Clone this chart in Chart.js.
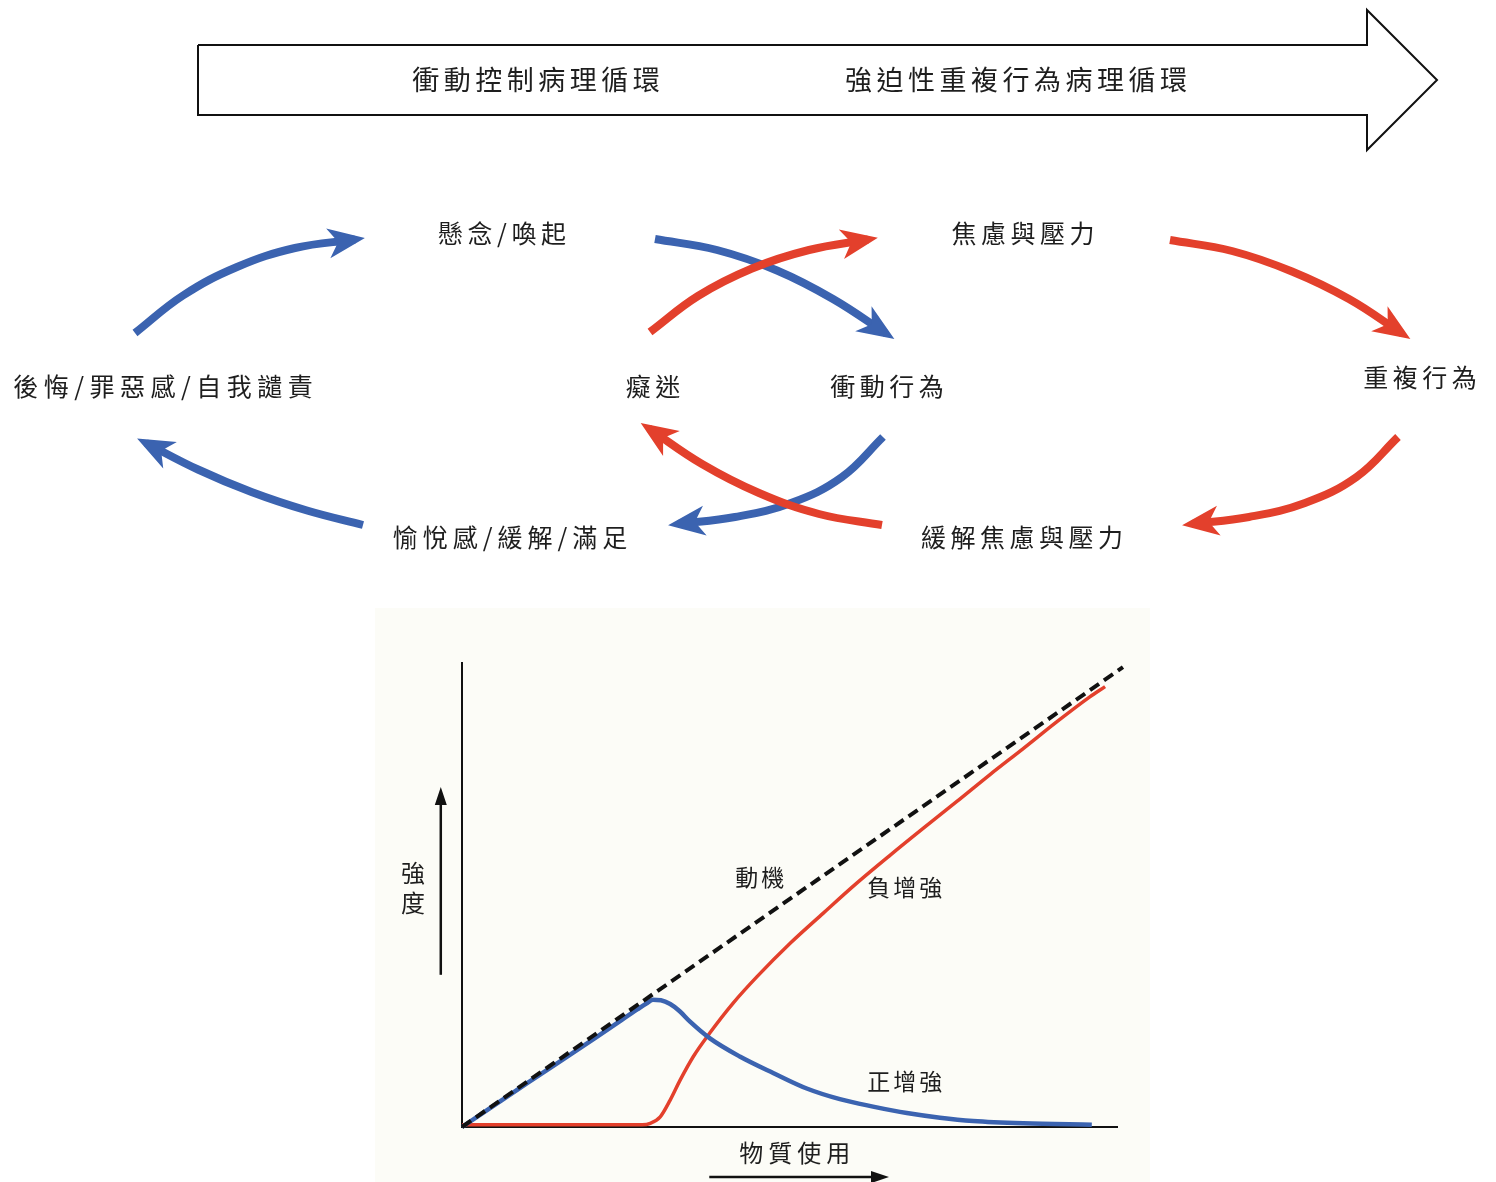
<!DOCTYPE html>
<html>
<head>
<meta charset="utf-8">
<title>衝動控制與強迫性重複行為病理循環</title>
<script src="https://cdn.jsdelivr.net/npm/chart.js@4.4.1/dist/chart.umd.min.js"></script>
<style>
  html, body { margin: 0; padding: 0; background: #ffffff; }
  body { width: 1496px; height: 1182px; position: relative; overflow: hidden; }
  #diagram { position: absolute; left: 0; top: 0; }
  #graph { position: absolute; left: 375px; top: 608px; background: #fcfcf7; }
</style>
</head>
<body>
<canvas id="diagram" width="1496" height="600"></canvas>
<canvas id="graph" width="775" height="574"></canvas>
<script>
// ---- diagram data (page units) ----
const bannerX = [198, 1367, 1367, 1437, 1367, 1367, 198, 198];
const bannerY = [45, 45, 10, 80, 150, 115, 115, 45];
const bannerTitles = ['衝動控制病理循環', '強迫性重複行為病理循環'];

const stageLabels = ['懸念/喚起', '焦慮與壓力', '後悔/罪惡感/自我譴責', '癡迷',
  '衝動行為', '重複行為', '愉悅感/緩解/滿足', '緩解焦慮與壓力'];

// cycle arrows, traced from start to end of shaft (the head is added on top)
const blueArrowsX = [
  [135, 183, 237, 295, 355],
  [655, 717, 777, 833, 886],
  [883, 842, 791, 735, 678],
  [363, 307, 251.5, 198, 146]
];
const blueArrowsY = [
  [333, 295.5, 267, 248, 239.5],
  [239, 250, 270.5, 299, 333.5],
  [437, 477, 503, 517, 524],
  [525, 510.5, 492, 469.5, 443]
];
const redArrowsX = [
  [650, 698, 752, 809, 868],
  [1170, 1232, 1292, 1349, 1402],
  [1398, 1356.5, 1305, 1249, 1192],
  [882, 819, 759, 702, 649]
];
const redArrowsY = [
  [332, 296, 268.5, 250, 239.5],
  [240, 251, 271.5, 299, 333.5],
  [437, 477, 503, 517, 524],
  [525, 514, 493, 464, 428.5]
];

// ---- graph data ----
const motiveX = [0, 99.7];
const motiveY = [0, 99.1];
const positiveX = [0, 10, 20, 24.0, 26.5, 27.8, 28.8, 30.0, 31.4, 32.8, 34.4, 37.4, 41.9, 47.0, 52.0, 57.0, 62.0, 67.1, 72.1, 77.1, 84.7, 95.0];
const positiveY = [0, 9.6, 19.1, 23.0, 25.4, 26.6, 27.4, 27.3, 26.5, 25.0, 22.7, 19.1, 15.2, 11.6, 8.3, 6.0, 4.4, 3.0, 2.0, 1.3, 0.8, 0.5];
const negativeX = [0, 27.2, 28.4, 29.9, 31.4, 32.9, 34.9, 37.4, 40.9, 44.5, 49.5, 54.5, 59.5, 64.6, 69.6, 74.6, 79.6, 84.7, 89.7, 94.7, 97.0];
const negativeY = [0.5, 0.5, 0.8, 2.2, 5.8, 10.1, 15.2, 20.3, 26.7, 32.4, 39.6, 46.1, 52.5, 58.6, 64.4, 70.1, 75.9, 81.6, 87.3, 92.7, 94.9];
const graphLabels = ['動機', '負增強', '正增強'];
const axisTitles = ['強度', '物質使用'];

// ---- layout ----
const FONT = '"Noto Sans CJK TC", "Noto Sans CJK SC", sans-serif';
const TEXT = '#1e1e1e';
const BLUE = '#3b63b0';
const RED = '#e3402c';
const bannerTitlePos = [[536, 80], [1016, 80]];
const stagePos = [[502, 233], [1023, 233], [163, 386], [653, 386], [887, 386], [1420, 377], [510, 537], [1022, 537]];
const stageSpacing = [4.5, 4.5, 5.5, 4.5, 4.5, 4.5, 5, 4.5];
const graphLabelPos = [[44.9, 53.9], [66.8, 51.7], [66.8, 9.9]];

function pts(xs, ys) {
  return xs.map((x, i) => ({ x: x, y: ys[i] }));
}

function drawHead(ctx, x, y, dx, dy, color) {
  const len = Math.hypot(dx, dy) || 1;
  const ux = dx / len, uy = dy / len;
  const px = -uy, py = ux;
  const tx = x + ux * 10, ty = y + uy * 10;
  ctx.beginPath();
  ctx.moveTo(tx, ty);
  ctx.lineTo(tx - ux * 37 + px * 15, ty - uy * 37 + py * 15);
  ctx.lineTo(tx - ux * 27, ty - uy * 27);
  ctx.lineTo(tx - ux * 37 - px * 15, ty - uy * 37 - py * 15);
  ctx.closePath();
  ctx.fillStyle = color;
  ctx.fill();
}

function label(ctx, text, x, y, size, spacing) {
  ctx.save();
  ctx.font = size + 'px ' + FONT;
  ctx.letterSpacing = spacing + 'px';
  ctx.fillStyle = TEXT;
  ctx.textAlign = 'center';
  ctx.textBaseline = 'middle';
  ctx.fillText(text, x + spacing / 2, y);
  ctx.restore();
}

const diagramText = {
  id: 'diagramText',
  afterDatasetsDraw(chart) {
    const ctx = chart.ctx;
    const sx = chart.scales.x, sy = chart.scales.y;
    chart.data.datasets.forEach((ds, i) => {
      if (!ds.arrow) return;
      const el = chart.getDatasetMeta(i).data;
      const last = el[el.length - 1];
      const prev = el[el.length - 2];
      let dx = last.x - last.cp1x, dy = last.y - last.cp1y;
      if (!isFinite(dx) || !isFinite(dy) || Math.hypot(dx, dy) < 0.01) {
        dx = last.x - prev.x;
        dy = last.y - prev.y;
      }
      drawHead(ctx, last.x, last.y, dx, dy, ds.borderColor);
    });
    bannerTitles.forEach((t, i) => {
      label(ctx, t, sx.getPixelForValue(bannerTitlePos[i][0]), sy.getPixelForValue(bannerTitlePos[i][1]), 27, 4.5);
    });
    stageLabels.forEach((t, i) => {
      label(ctx, t, sx.getPixelForValue(stagePos[i][0]), sy.getPixelForValue(stagePos[i][1]), 25, stageSpacing[i]);
    });
  }
};

const arrowSets = [];
redArrowsX.forEach((xs, i) => arrowSets.push({
  data: pts(xs, redArrowsY[i]), borderColor: RED, arrow: true, order: 1
}));
blueArrowsX.forEach((xs, i) => arrowSets.push({
  data: pts(xs, blueArrowsY[i]), borderColor: BLUE, arrow: true, order: 2
}));
arrowSets.forEach(ds => {
  ds.showLine = true;
  ds.tension = 0.4;
  ds.borderWidth = 8;
  ds.borderCapStyle = 'butt';
  ds.pointRadius = 0;
  ds.clip = false;
});

new Chart(document.getElementById('diagram'), {
  type: 'scatter',
  data: {
    datasets: [{
      data: pts(bannerX, bannerY),
      showLine: true,
      tension: 0,
      borderColor: '#111111',
      borderWidth: 2,
      borderJoinStyle: 'miter',
      pointRadius: 0,
      clip: false,
      order: 0
    }].concat(arrowSets)
  },
  options: {
    responsive: false,
    animation: false,
    devicePixelRatio: 1,
    layout: { padding: 0 },
    plugins: { legend: { display: false }, tooltip: { enabled: false } },
    scales: {
      x: { type: 'linear', min: 0, max: 1496, display: false },
      y: { type: 'linear', min: 0, max: 600, reverse: true, display: false }
    }
  },
  plugins: [diagramText]
});

function arrowLine(ctx, x1, y1, x2, y2) {
  ctx.save();
  ctx.strokeStyle = '#111111';
  ctx.fillStyle = '#111111';
  ctx.lineWidth = 2.5;
  ctx.beginPath();
  ctx.moveTo(x1, y1);
  ctx.lineTo(x2, y2);
  ctx.stroke();
  const dx = x2 - x1, dy = y2 - y1;
  const len = Math.hypot(dx, dy);
  const ux = dx / len, uy = dy / len;
  ctx.beginPath();
  ctx.moveTo(x2 + ux * 6, y2 + uy * 6);
  ctx.lineTo(x2 - ux * 12 - uy * 6, y2 - uy * 12 + ux * 6);
  ctx.lineTo(x2 - ux * 12 + uy * 6, y2 - uy * 12 - ux * 6);
  ctx.closePath();
  ctx.fill();
  ctx.restore();
}

const graphText = {
  id: 'graphText',
  afterDatasetsDraw(chart) {
    const ctx = chart.ctx;
    const sx = chart.scales.x, sy = chart.scales.y;
    graphLabels.forEach((t, i) => {
      label(ctx, t, sx.getPixelForValue(graphLabelPos[i][0]), sy.getPixelForValue(graphLabelPos[i][1]), 23, 3);
    });
    // vertical axis title and arrow
    label(ctx, axisTitles[0].charAt(0), sx.getPixelForValue(-7.4), sy.getPixelForValue(54.7), 24, 0);
    label(ctx, axisTitles[0].charAt(1), sx.getPixelForValue(-7.4), sy.getPixelForValue(48.3), 24, 0);
    arrowLine(ctx, sx.getPixelForValue(-3.2), sy.getPixelForValue(32.8), sx.getPixelForValue(-3.2), sy.getPixelForValue(72.0));
    // horizontal axis title and arrow
    label(ctx, axisTitles[1], sx.getPixelForValue(50.2), sy.getPixelForValue(-5.6), 24, 5);
    arrowLine(ctx, sx.getPixelForValue(37.3), sy.getPixelForValue(-10.8), sx.getPixelForValue(63.5), sy.getPixelForValue(-10.8));
  }
};

const hiddenGrid = { display: false, drawTicks: false };
new Chart(document.getElementById('graph'), {
  type: 'scatter',
  data: {
    datasets: [
      {
        label: '動機', data: pts(motiveX, motiveY), showLine: true,
        borderColor: '#111111', borderWidth: 4, borderDash: [11, 6],
        pointRadius: 0, clip: false, order: 0
      },
      {
        label: '正增強', data: pts(positiveX, positiveY), showLine: true,
        borderColor: BLUE, borderWidth: 4.5, cubicInterpolationMode: 'monotone',
        pointRadius: 0, clip: false, order: 1
      },
      {
        label: '負增強', data: pts(negativeX, negativeY), showLine: true,
        borderColor: RED, borderWidth: 3.5, cubicInterpolationMode: 'monotone',
        pointRadius: 0, clip: false, order: 2
      }
    ]
  },
  options: {
    responsive: false,
    animation: false,
    devicePixelRatio: 1,
    layout: { padding: { left: 87, right: 33, top: 55, bottom: 55 } },
    plugins: { legend: { display: false }, tooltip: { enabled: false } },
    scales: {
      x: {
        type: 'linear', min: 0, max: 98.8,
        grid: hiddenGrid, ticks: { display: false },
        border: { display: true, color: '#111111', width: 2 }
      },
      y: {
        type: 'linear', min: 0, max: 100,
        grid: hiddenGrid, ticks: { display: false },
        border: { display: true, color: '#111111', width: 2 }
      }
    }
  },
  plugins: [graphText]
});
</script>
</body>
</html>
